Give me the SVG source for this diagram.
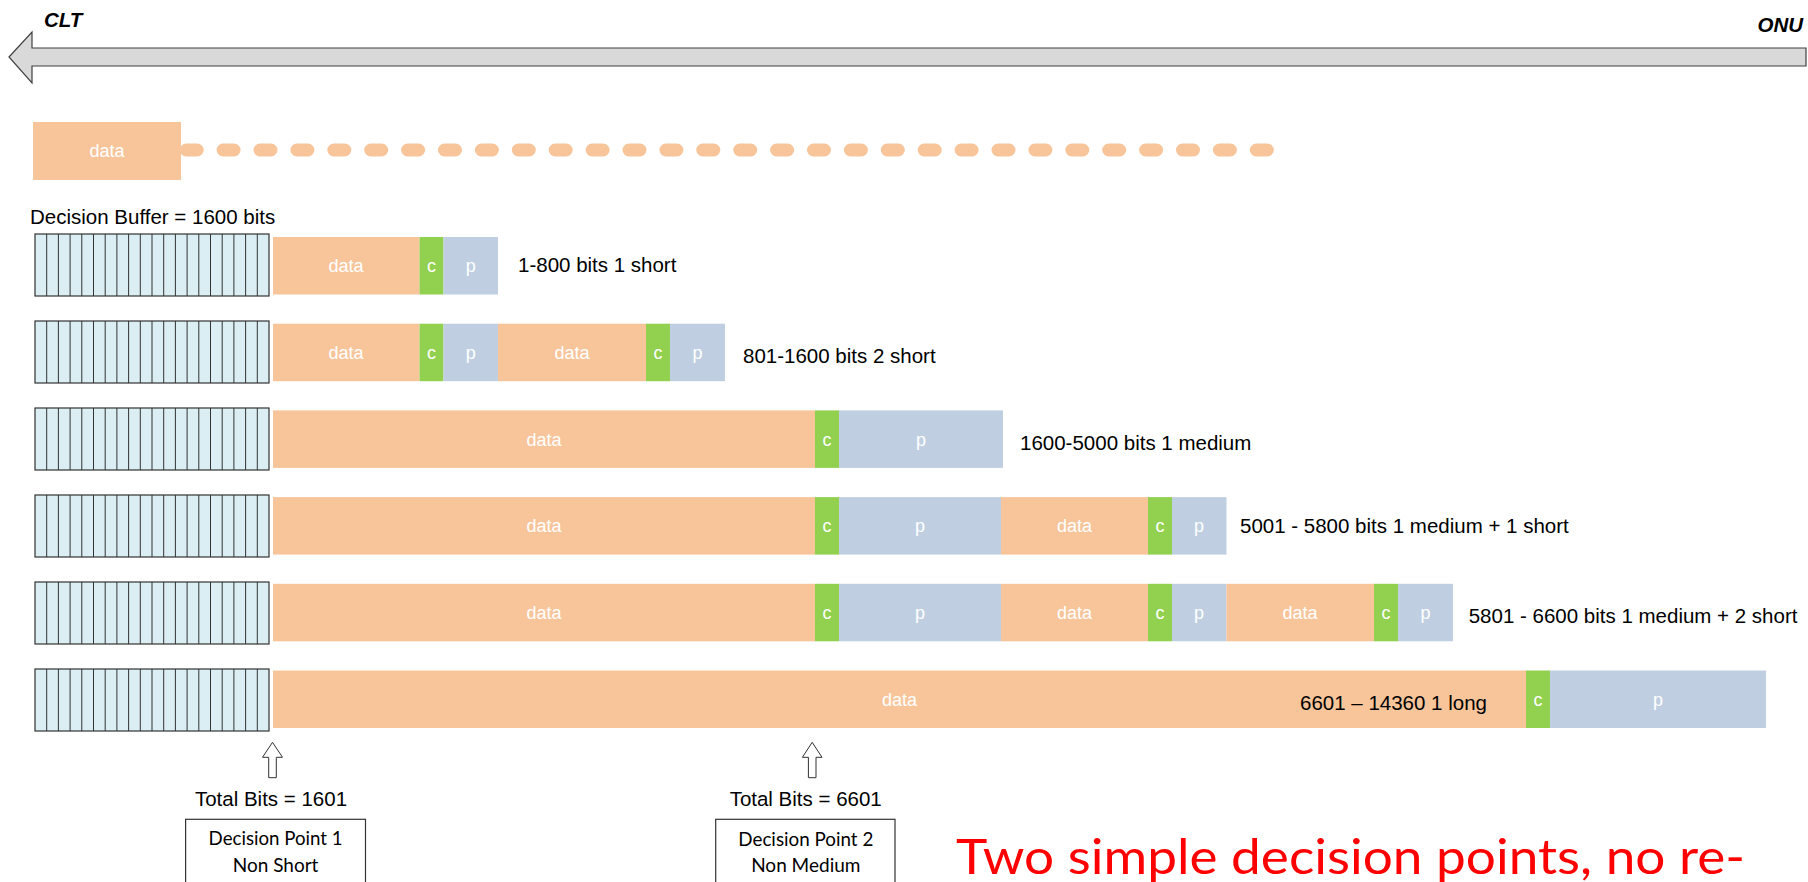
<svg xmlns="http://www.w3.org/2000/svg" width="1808" height="882" viewBox="0 0 1808 882">
<style>
.bg{fill:#ffffff}
.d{fill:#F8C59B}
.c{fill:#92D050}
.p{fill:#BFCFE1}
.bt{fill:#ffffff;font-family:"Liberation Sans",Arial,sans-serif;font-size:18px;text-anchor:middle}
.lbl{fill:#000000;font-family:"Liberation Sans",Arial,sans-serif;font-size:20.5px}
.buf{fill:#DAEEF3;stroke:#333333;stroke-width:1.2}
.cell{stroke:#333333;stroke-width:1}
.hdr{fill:#000000;font-family:"Liberation Sans",Arial,sans-serif;font-size:20.5px;font-weight:bold;font-style:italic}
.box{fill:#ffffff;stroke:#333333;stroke-width:1.2}
.cal{fill:#000000;font-family:Lato,"Open Sans",sans-serif;font-size:19px;text-anchor:middle}
.up{fill:#ffffff;stroke:#333333;stroke-width:1}
</style>
<defs>
<g id="buffer">
<rect class="buf" x="35" y="0" width="234" height="62"/>
<path class="cell" d="M46.7,0V62M58.4,0V62M70.1,0V62M81.8,0V62M93.5,0V62M105.2,0V62M116.9,0V62M128.6,0V62M140.3,0V62M152,0V62M163.7,0V62M175.4,0V62M187.1,0V62M198.8,0V62M210.5,0V62M222.2,0V62M233.9,0V62M245.6,0V62M257.3,0V62"/>
</g>
</defs>
<rect class="bg" x="0" y="0" width="1808" height="882"/>

<g id="direction-arrow">
<path d="M9,57 L32,32 L32,48 L1806,48 L1806,66 L32,66 L32,83 Z" fill="#D9D9D9" stroke="#404040" stroke-width="1.2"/>
<text class="hdr" x="44" y="27">CLT</text>
<text class="hdr" x="1803" y="32" text-anchor="end">ONU</text>
</g>

<g id="incoming-data">
<line x1="186.2" y1="150" x2="1267.3" y2="150" stroke="#F8C59B" stroke-width="13" stroke-linecap="round" stroke-dasharray="11 25.9"/>
<rect class="d" x="33" y="122" width="148" height="58"/>
<text class="bt" x="107" y="157">data</text>
</g>

<text class="lbl" x="30" y="224">Decision Buffer = 1600 bits</text>

<g id="row1">
<use href="#buffer" y="234"/>
<rect class="d" x="273" y="237" width="146.5" height="57.5"/>
<rect class="c" x="419.5" y="237" width="24" height="57.5"/>
<rect class="p" x="443.5" y="237" width="54.5" height="57.5"/>
<text class="bt" x="346" y="272">data</text>
<text class="bt" x="431.5" y="272">c</text>
<text class="bt" x="470.7" y="272">p</text>
<text class="lbl" x="518" y="272">1-800 bits 1 short</text>
</g>

<g id="row2">
<use href="#buffer" y="321"/>
<rect class="d" x="273" y="323.7" width="146.5" height="57.5"/>
<rect class="c" x="419.5" y="323.7" width="24" height="57.5"/>
<rect class="p" x="443.5" y="323.7" width="54.5" height="57.5"/>
<rect class="d" x="498" y="323.7" width="148" height="57.5"/>
<rect class="c" x="646" y="323.7" width="24" height="57.5"/>
<rect class="p" x="670" y="323.7" width="55" height="57.5"/>
<text class="bt" x="346" y="359">data</text>
<text class="bt" x="431.5" y="359">c</text>
<text class="bt" x="470.7" y="359">p</text>
<text class="bt" x="572" y="359">data</text>
<text class="bt" x="658" y="359">c</text>
<text class="bt" x="697.5" y="359">p</text>
<text class="lbl" x="743" y="363">801-1600 bits 2 short</text>
</g>

<g id="row3">
<use href="#buffer" y="408"/>
<rect class="d" x="273" y="410.4" width="542" height="57.5"/>
<rect class="c" x="815" y="410.4" width="24" height="57.5"/>
<rect class="p" x="839" y="410.4" width="164" height="57.5"/>
<text class="bt" x="544" y="445.6">data</text>
<text class="bt" x="827" y="445.6">c</text>
<text class="bt" x="921" y="445.6">p</text>
<text class="lbl" x="1020" y="450">1600-5000 bits 1 medium</text>
</g>

<g id="row4">
<use href="#buffer" y="495"/>
<rect class="d" x="273" y="497.1" width="542" height="57.5"/>
<rect class="c" x="815" y="497.1" width="24" height="57.5"/>
<rect class="p" x="839" y="497.1" width="162" height="57.5"/>
<rect class="d" x="1001" y="497.1" width="147" height="57.5"/>
<rect class="c" x="1148" y="497.1" width="24" height="57.5"/>
<rect class="p" x="1172" y="497.1" width="54.5" height="57.5"/>
<text class="bt" x="544" y="532.3">data</text>
<text class="bt" x="827" y="532.3">c</text>
<text class="bt" x="920" y="532.3">p</text>
<text class="bt" x="1074.5" y="532.3">data</text>
<text class="bt" x="1160" y="532.3">c</text>
<text class="bt" x="1199" y="532.3">p</text>
<text class="lbl" x="1240" y="533">5001 - 5800 bits 1 medium + 1 short</text>
</g>

<g id="row5">
<use href="#buffer" y="582"/>
<rect class="d" x="273" y="583.8" width="542" height="57.5"/>
<rect class="c" x="815" y="583.8" width="24" height="57.5"/>
<rect class="p" x="839" y="583.8" width="162" height="57.5"/>
<rect class="d" x="1001" y="583.8" width="147" height="57.5"/>
<rect class="c" x="1148" y="583.8" width="24" height="57.5"/>
<rect class="p" x="1172" y="583.8" width="54.5" height="57.5"/>
<rect class="d" x="1226.5" y="583.8" width="147.5" height="57.5"/>
<rect class="c" x="1374" y="583.8" width="24" height="57.5"/>
<rect class="p" x="1398" y="583.8" width="55" height="57.5"/>
<text class="bt" x="544" y="619">data</text>
<text class="bt" x="827" y="619">c</text>
<text class="bt" x="920" y="619">p</text>
<text class="bt" x="1074.5" y="619">data</text>
<text class="bt" x="1160" y="619">c</text>
<text class="bt" x="1199" y="619">p</text>
<text class="bt" x="1300" y="619">data</text>
<text class="bt" x="1386" y="619">c</text>
<text class="bt" x="1425.5" y="619">p</text>
<text class="lbl" x="1468.7" y="623">5801 - 6600 bits 1 medium + 2 short</text>
</g>

<g id="row6">
<use href="#buffer" y="669"/>
<rect class="d" x="273" y="670.5" width="1253" height="57.5"/>
<rect class="c" x="1526" y="670.5" width="24" height="57.5"/>
<rect class="p" x="1550" y="670.5" width="216" height="57.5"/>
<text class="bt" x="899.5" y="705.7">data</text>
<text class="bt" x="1538" y="705.7">c</text>
<text class="bt" x="1658" y="705.7">p</text>
<text class="lbl" x="1300" y="710">6601 – 14360 1 long</text>
</g>

<g id="connectors">
<path class="up" d="M272.5,742.3 L282.5,757.3 L276.3,757.3 L276.3,777.7 L268.7,777.7 L268.7,757.3 L262.5,757.3 Z"/>
<path class="up" d="M812.2,742.3 L822,757.3 L816,757.3 L816,777.7 L808.4,777.7 L808.4,757.3 L802.4,757.3 Z"/>
</g>

<g id="decision-point-1">
<text class="lbl" x="271" y="806" text-anchor="middle" font-size="21">Total Bits = 1601</text>
<rect class="box" x="185.6" y="819.3" width="179.9" height="80"/>
<text class="cal" x="275.6" y="845" textLength="134" lengthAdjust="spacingAndGlyphs">Decision Point 1</text>
<text class="cal" x="275.6" y="871.5">Non Short</text>
</g>

<g id="decision-point-2">
<text class="lbl" x="805.7" y="806" text-anchor="middle" font-size="21">Total Bits = 6601</text>
<rect class="box" x="715.7" y="819.3" width="179.3" height="80"/>
<text class="cal" x="805.8" y="845.5" textLength="135" lengthAdjust="spacingAndGlyphs">Decision Point 2</text>
<text class="cal" x="805.8" y="871.7">Non Medium</text>
</g>

<text x="956" y="874" fill="#FF0000" font-family="Lato,'Open Sans',sans-serif" font-size="48" textLength="789" lengthAdjust="spacingAndGlyphs">Two simple decision points, no re-</text>
</svg>
